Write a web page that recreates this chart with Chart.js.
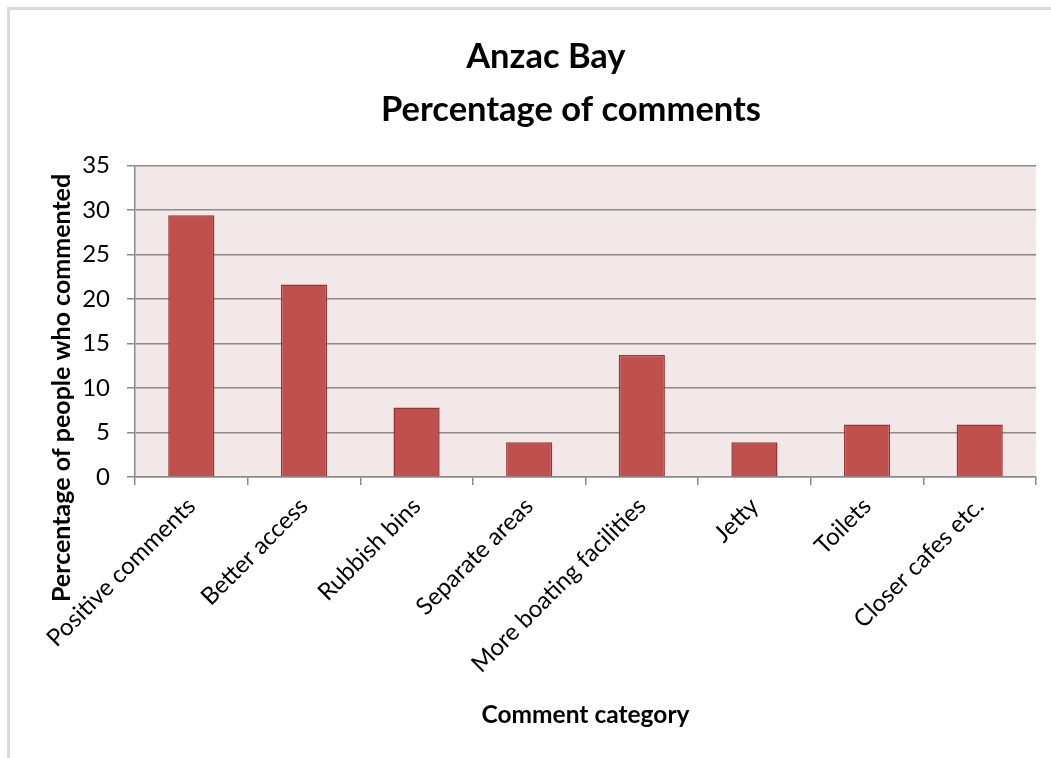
<!DOCTYPE html>
<html>
<head>
<meta charset="utf-8">
<script src="https://cdn.jsdelivr.net/npm/chart.js@4.4.1/dist/chart.umd.min.js"></script>
<style>
  html, body { margin: 0; padding: 0; background: #ffffff; overflow: hidden; }
  #frame { position: absolute; left: 7px; top: 7px; width: 1100px; height: 800px;
           border: 3px solid #d9d9d9; box-sizing: border-box; }
  #chart { position: absolute; left: 0; top: 0; }
</style>
</head>
<body>
<div id="frame"></div>
<canvas id="chart" width="1051" height="758"></canvas>
<script>
// Survey results: share of respondents per comment category
const categories = [
  'Positive comments', 'Better access', 'Rubbish bins', 'Separate areas',
  'More boating facilities', 'Jetty', 'Toilets', 'Closer cafes etc.'
];
const percentages = [29.4, 21.6, 7.8, 3.9, 13.7, 3.9, 5.9, 5.9];
const yMin = 0;
const yMax = 35;
const yStep = 5;
const titleLines = ['Anzac Bay', 'Percentage of comments'];
const xAxisTitle = 'Comment category';
const yAxisTitle = 'Percentage of people who commented';

// trailing blanks: the first title line sits left of centre and the
// rotated axis title sits low beside the axis, as in the workbook
const padTail = (s, n) => s + ' '.repeat(n);

const FONT = 'Lato, "Open Sans", sans-serif';
const GRID = '#8a8a8a';

// pale rose fill behind the plot area
const plotBackground = {
  id: 'plotBackground',
  beforeDraw(chart) {
    const { ctx, chartArea: a } = chart;
    ctx.save();
    ctx.fillStyle = '#f2e8e7';
    ctx.fillRect(a.left, a.top, a.right - a.left, a.bottom - a.top);
    ctx.restore();
  }
};

new Chart(document.getElementById('chart'), {
  type: 'bar',
  data: {
    labels: categories,
    datasets: [{
      data: percentages,
      backgroundColor: '#c0504d',
      borderColor: '#943634',
      borderWidth: 1.5,
      barPercentage: 0.41,
      categoryPercentage: 1.0
    }]
  },
  options: {
    responsive: false,
    devicePixelRatio: 1,
    animation: false,
    // the chart frame runs past the right edge of the window
    layout: { padding: { left: 0, right: -91, top: 30, bottom: 0 } },
    plugins: {
      legend: { display: false },
      tooltip: { enabled: false },
      title: {
        display: true,
        text: [padTail(titleLines[0], 6), titleLines[1]],
        color: '#000000',
        font: { family: FONT, size: 34.5, weight: 'bold', lineHeight: 1.54 },
        padding: { top: 0, bottom: 29 }
      }
    },
    scales: {
      x: {
        afterFit(scale) { scale.height = 281; },
        grid: {
          display: true,
          offset: true,
          drawOnChartArea: false,
          drawTicks: true,
          tickLength: 8,
          color: GRID,
          lineWidth: 1.5
        },
        border: { display: true, color: GRID, width: 1.5 },
        ticks: {
          autoSkip: false,
          minRotation: 45,
          maxRotation: 45,
          padding: 7,
          color: '#000000',
          font: { family: FONT, size: 24 }
        },
        title: {
          display: true,
          text: xAxisTitle,
          color: '#000000',
          font: { family: FONT, size: 24.5, weight: 'bold' },
          padding: { top: 0, bottom: 28 }
        }
      },
      y: {
        min: yMin,
        max: yMax,
        afterFit(scale) { scale.width = 135; },
        grid: {
          color: GRID,
          lineWidth: 1.5,
          drawTicks: true,
          tickLength: 8
        },
        border: { display: true, color: GRID, width: 1.5 },
        ticks: {
          stepSize: yStep,
          padding: 17,
          color: '#000000',
          font: { family: FONT, size: 24 }
        },
        title: {
          display: true,
          text: padTail(yAxisTitle, 22),
          color: '#000000',
          font: { family: FONT, size: 25, weight: 'bold' },
          padding: { top: 47, bottom: 0 }
        }
      },
      // empty margin on the right of the plot, inside the frame
      rightMargin: {
        type: 'linear',
        position: 'right',
        afterFit(scale) { scale.width = 106; },
        grid: { display: false },
        border: { display: false },
        ticks: { display: false }
      }
    }
  },
  plugins: [plotBackground]
});
</script>
</body>
</html>
